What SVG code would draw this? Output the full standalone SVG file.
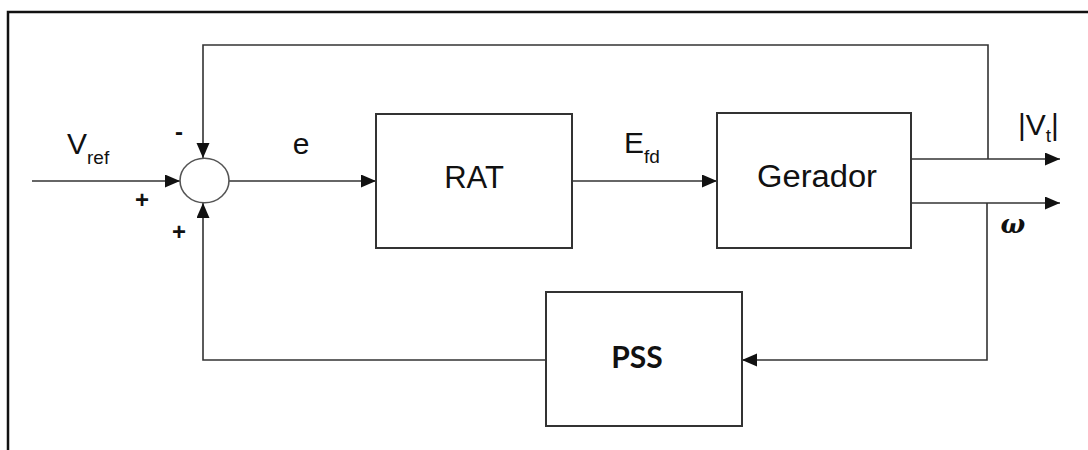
<svg xmlns="http://www.w3.org/2000/svg" width="1088" height="450" viewBox="0 0 1088 450">
<style>
.frame{stroke:#111;stroke-width:2.5;fill:none}
.box{fill:#fff;stroke:#333;stroke-width:2}
.ln{fill:none;stroke:#333;stroke-width:1.6}
.t{font-family:"Liberation Sans",Arial,sans-serif;fill:#111}
.pm{font-family:"Liberation Sans",Arial,sans-serif;font-weight:bold;fill:#111;font-size:24px;text-anchor:middle}
</style>
<defs>
<marker id="ah" markerUnits="userSpaceOnUse" markerWidth="16" markerHeight="14" refX="15" refY="6.5" orient="auto">
<path d="M0,0 L15,6.5 L0,13 z" fill="#111"/>
</marker>
</defs>
<rect width="1088" height="450" fill="#fff"/>
<g id="frame">
<polyline class="frame" points="8,450 8,12 1088,12"/>
</g>
<g id="connectors">
<line class="ln" x1="32" y1="181" x2="180" y2="181" marker-end="url(#ah)"/>
<line class="ln" x1="229" y1="181" x2="376" y2="181" marker-end="url(#ah)"/>
<line class="ln" x1="572" y1="181" x2="717" y2="181" marker-end="url(#ah)"/>
<line class="ln" x1="911" y1="159" x2="1060" y2="159" marker-end="url(#ah)"/>
<line class="ln" x1="911" y1="203" x2="1060" y2="203" marker-end="url(#ah)"/>
<polyline class="ln" points="988,159 988,45 203,45 203,158" marker-end="url(#ah)"/>
<polyline class="ln" points="987,203 987,360 742,360" marker-end="url(#ah)"/>
<polyline class="ln" points="546,360 203,360 203,203" marker-end="url(#ah)"/>
</g>
<g id="sum">
<ellipse cx="204.5" cy="180.5" rx="24.5" ry="22.3" fill="#fff" stroke="#555" stroke-width="1.6"/>
<text class="pm" x="179" y="140">-</text>
<text class="pm" x="142" y="208">+</text>
<text class="pm" x="179" y="240">+</text>
</g>
<g id="RAT">
<rect class="box" x="376" y="114" width="196" height="134"/>
<text class="t" x="474" y="188" font-size="31" text-anchor="middle">RAT</text>
</g>
<g id="Gerador">
<rect class="box" x="717" y="113" width="194" height="135"/>
<text class="t" x="817" y="187" font-size="31" text-anchor="middle" textLength="120" lengthAdjust="spacingAndGlyphs">Gerador</text>
</g>
<g id="PSS">
<rect class="box" x="546" y="292" width="196" height="134"/>
<text x="637" y="368" font-family="Lato,'Open Sans',sans-serif" font-weight="bold" font-size="30" text-anchor="middle" fill="#111">PSS</text>
</g>
<g id="labels">
<text class="t" x="67" y="154" font-size="30">V<tspan font-size="19" dy="10">ref</tspan></text>
<text class="t" x="301" y="154" font-size="30" text-anchor="middle">e</text>
<text class="t" x="624" y="153" font-size="30">E<tspan font-size="19" dy="10">fd</tspan></text>
<text class="t" x="1018" y="135" font-size="30">|V<tspan font-size="19" dy="7">t</tspan><tspan dy="-7">|</tspan></text>
<text x="1013" y="233" font-family="'DejaVu Serif',serif" font-weight="bold" font-style="italic" font-size="26" text-anchor="middle" fill="#111">ω</text>
</g>
</svg>
